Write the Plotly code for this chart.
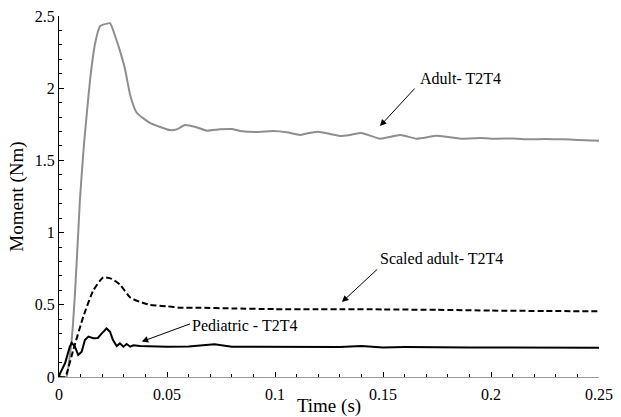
import plotly.graph_objects as go

# Moment time histories for the T2-T4 segment
adult_t = [0, 0.0033, 0.0037, 0.0059, 0.0074, 0.0089, 0.0097, 0.0115, 0.0136, 0.0147,
           0.0167, 0.019, 0.0205, 0.0236, 0.026, 0.0282, 0.0306, 0.033, 0.036, 0.0421,
           0.0514, 0.0545, 0.0583, 0.0637, 0.0684, 0.0745, 0.080, 0.0838, 0.0915, 0.0992,
           0.1054, 0.1116, 0.1147, 0.120, 0.1255, 0.130, 0.1347, 0.140, 0.1486, 0.158,
           0.1656, 0.175, 0.187, 0.195, 0.2026, 0.21, 0.218, 0.225, 0.233, 0.24, 0.25]
adult_m = [0, 0, 0.01, 0.26, 0.58, 1.0, 1.23, 1.6, 1.94, 2.10,
           2.31, 2.43, 2.44, 2.45, 2.36, 2.26, 2.13, 1.95, 1.83, 1.76,
           1.71, 1.715, 1.745, 1.729, 1.706, 1.715, 1.717, 1.704, 1.697, 1.704,
           1.695, 1.676, 1.687, 1.699, 1.683, 1.669, 1.676, 1.69, 1.65, 1.676,
           1.65, 1.67, 1.65, 1.655, 1.65, 1.652, 1.646, 1.648, 1.646, 1.642, 1.636]

scaled_t = [0, 0.003, 0.0036, 0.0066, 0.0113, 0.0159, 0.0205, 0.0244, 0.0282, 0.033,
            0.0375, 0.042, 0.045, 0.05, 0.056, 0.065, 0.08, 0.1, 0.12, 0.13,
            0.15, 0.175, 0.2, 0.225, 0.25]
scaled_m = [0, 0, 0.026, 0.187, 0.42, 0.60, 0.69, 0.68, 0.64, 0.55,
            0.52, 0.50, 0.495, 0.49, 0.48, 0.48, 0.475, 0.47, 0.47, 0.47,
            0.468, 0.465, 0.46, 0.457, 0.455]

ped_t = [0, 0.0005, 0.0028, 0.005, 0.0059, 0.0074, 0.0089, 0.0105, 0.012, 0.0136,
         0.0159, 0.018, 0.0197, 0.022, 0.0236, 0.025, 0.0267, 0.0282, 0.0298, 0.0313,
         0.033, 0.0344, 0.0375, 0.042, 0.05, 0.06, 0.072, 0.08, 0.09, 0.1,
         0.11, 0.12, 0.13, 0.14, 0.15, 0.16, 0.17, 0.18, 0.19, 0.2,
         0.21, 0.22, 0.23, 0.24, 0.25]
ped_m = [0, 0.026, 0.095, 0.21, 0.237, 0.21, 0.152, 0.175, 0.256, 0.28,
         0.268, 0.27, 0.30, 0.336, 0.314, 0.256, 0.215, 0.233, 0.21, 0.229,
         0.21, 0.22, 0.215, 0.212, 0.21, 0.212, 0.226, 0.21, 0.21, 0.21,
         0.212, 0.21, 0.208, 0.214, 0.205, 0.207, 0.205, 0.206, 0.204, 0.205,
         0.204, 0.203, 0.204, 0.203, 0.203]

# Label text, label anchor (left-middle), arrow tail and arrow tip
labels = ["Adult- T2T4", "Scaled adult- T2T4", "Pediatric - T2T4"]
label_pos = [(0.1663, 2.07), (0.1477, 0.824), (0.0607, 0.36)]
arrow_tail = [(0.1653, 2.008), (0.148, 0.755), (0.0614, 0.372)]
arrow_tip = [(0.1486, 1.738), (0.131, 0.519), (0.0383, 0.245)]

serif = "Liberation Serif"

fig = go.Figure()
fig.add_trace(go.Scatter(x=adult_t, y=adult_m, mode="lines",
                         line=dict(color="#8e8e8e", width=2, shape="spline", smoothing=0.5),
                         name="Adult- T2T4"))
fig.add_trace(go.Scatter(x=scaled_t, y=scaled_m, mode="lines",
                         line=dict(color="black", width=2, dash="6px,3px",
                                   shape="spline", smoothing=0.5),
                         name="Scaled adult- T2T4"))
fig.add_trace(go.Scatter(x=ped_t, y=ped_m, mode="lines",
                         line=dict(color="black", width=2), name="Pediatric - T2T4"))

for text, (lx, ly), (ax, ay), (tx, ty) in zip(labels, label_pos, arrow_tail, arrow_tip):
    fig.add_annotation(x=lx, y=ly, text=text, showarrow=False, xanchor="left",
                       yanchor="middle", font=dict(family=serif, size=16, color="black"))
    fig.add_annotation(x=tx, y=ty, ax=ax, ay=ay, axref="x", ayref="y", text="",
                       showarrow=True, arrowhead=2, arrowsize=1.3, arrowwidth=1,
                       arrowcolor="black")

fig.update_layout(
    width=621, height=417,
    margin=dict(l=59, r=22, t=16, b=40),
    paper_bgcolor="white", plot_bgcolor="white",
    showlegend=False,
    font=dict(family=serif, size=16, color="black"),
    xaxis=dict(range=[0, 0.25], tick0=0, dtick=0.05, tickformat="~g",
               automargin=False, ticklabelstandoff=3,
               showgrid=False, zeroline=False, showline=True, linecolor="#9a9a9a",
               linewidth=1, ticks="inside", ticklen=5, tickcolor="black",
               minor=dict(dtick=0.01, ticks="inside", ticklen=3, tickcolor="black"),
               title=dict(text="Time (s)", standoff=0)),
    yaxis=dict(range=[0, 2.5], tick0=0, dtick=0.5, tickformat="~g",
               automargin=False,
               showgrid=False, zeroline=False, showline=True, linecolor="black",
               linewidth=1, ticks="inside", ticklen=5, tickcolor="black",
               minor=dict(dtick=0.1, ticks="inside", ticklen=3, tickcolor="black"),
               title=dict(text="Moment (Nm)", standoff=6)),
)

fig.write_html("out.html")
